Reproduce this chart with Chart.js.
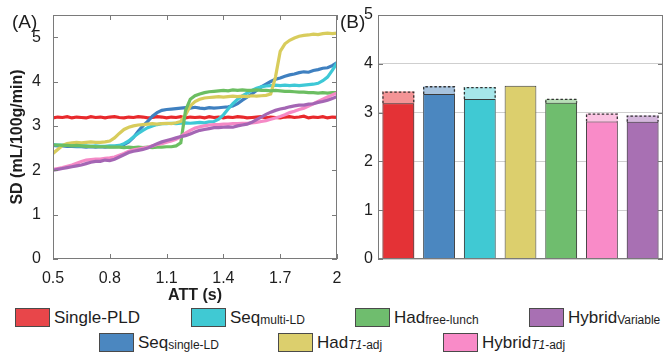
<!DOCTYPE html>
<html>
<head>
<meta charset="utf-8">
<script src="https://cdn.jsdelivr.net/npm/chart.js@4"></script>
<style>
  html, body { margin:0; padding:0; background:#fff; }
  body { width:664px; height:355px; position:relative; overflow:hidden; font-family:"Liberation Sans", Arial, sans-serif; color:#1e1e1e; }
  canvas { position:absolute; }
  .panel { position:absolute; font-size:19px; line-height:20px; color:#1e1e1e; }
  .lg { position:absolute; display:flex; align-items:center; height:19px; white-space:nowrap; }
  .bx { display:inline-block; width:33px; height:17px; border:1px solid #4a4a4a; margin-right:4px; }
  .tx { font-size:17px; color:#1e1e1e; }
  .sub { font-size:12px; position:relative; top:1px; }
</style>
</head>
<body>
<canvas id="cA" width="345" height="305" style="left:0;top:0"></canvas>
<canvas id="cB" width="324" height="305" style="left:340px;top:0"></canvas>
<div class="panel" style="left:12px;top:12px">(A)</div>
<div class="panel" style="left:340px;top:12px">(B)</div>
<div id="legend"></div>
<script>
// ---------- DATA ----------
const att = [0.5,0.525,0.55,0.575,0.6,0.625,0.65,0.675,0.7,0.725,
  0.75,0.775,0.8,0.825,0.85,0.875,0.9,0.925,0.95,0.975,
  1.0,1.025,1.05,1.075,1.1,1.125,1.15,1.175,1.2,1.225,
  1.25,1.275,1.3,1.325,1.35,1.375,1.4,1.425,1.45,1.475,
  1.5,1.525,1.55,1.575,1.6,1.625,1.65,1.675,1.7,1.725,
  1.75,1.775,1.8,1.825,1.85,1.875,1.9,1.925,1.95,1.975,
  2.0];

const singlePLD = [3.18,3.20,3.19,3.21,3.18,3.20,3.19,3.18,3.21,3.19,
  3.20,3.18,3.20,3.21,3.19,3.18,3.20,3.19,3.21,3.20,
  3.18,3.19,3.21,3.20,3.18,3.20,3.19,3.21,3.18,3.20,
  3.19,3.20,3.18,3.21,3.19,3.20,3.18,3.20,3.19,3.21,
  3.20,3.18,3.19,3.20,3.21,3.18,3.20,3.19,3.18,3.20,
  3.21,3.19,3.20,3.22,3.18,3.20,3.19,3.21,3.18,3.20,
  3.19];

const seqSingleLD = [2.56,2.55,2.55,2.54,2.54,2.53,2.53,2.52,2.53,2.52,
  2.53,2.52,2.53,2.53,2.54,2.58,2.64,2.74,2.88,3.00,
  3.10,3.22,3.30,3.35,3.37,3.38,3.39,3.40,3.41,3.40,
  3.42,3.40,3.39,3.41,3.40,3.41,3.42,3.43,3.45,3.50,
  3.58,3.65,3.72,3.80,3.88,3.94,4.00,4.05,4.08,4.12,
  4.15,4.17,4.20,4.22,4.21,4.25,4.27,4.30,4.31,4.36,
  4.43];

const seqMultiLD = [2.58,2.57,2.57,2.56,2.56,2.55,2.55,2.55,2.54,2.55,
  2.54,2.54,2.55,2.55,2.56,2.60,2.66,2.75,2.83,2.90,
  2.96,3.00,3.03,3.05,3.05,3.06,3.05,3.06,3.07,3.06,
  3.07,3.08,3.07,3.09,3.10,3.15,3.25,3.38,3.50,3.60,
  3.68,3.74,3.80,3.85,3.88,3.90,3.91,3.92,3.91,3.92,
  3.91,3.92,3.91,3.92,3.93,3.94,3.96,4.02,4.10,4.25,
  4.42];

const hadT1adj = [2.38,2.47,2.56,2.60,2.62,2.63,2.62,2.63,2.64,2.63,
  2.63,2.64,2.66,2.73,2.83,2.92,2.97,3.00,3.02,3.03,
  3.04,3.05,3.04,3.05,3.06,3.05,3.07,3.10,3.25,3.45,
  3.55,3.60,3.63,3.64,3.65,3.66,3.65,3.66,3.67,3.66,
  3.67,3.66,3.68,3.67,3.68,3.69,3.72,4.10,4.68,4.85,
  4.93,4.98,5.02,5.04,5.05,5.07,5.06,5.08,5.09,5.08,
  5.09];

const hadFreeLunch = [2.57,2.57,2.56,2.56,2.55,2.56,2.55,2.54,2.54,2.53,
  2.53,2.53,2.52,2.52,2.52,2.51,2.52,2.51,2.52,2.51,
  2.52,2.51,2.52,2.52,2.53,2.53,2.55,2.62,3.35,3.60,
  3.68,3.72,3.75,3.77,3.78,3.79,3.80,3.79,3.81,3.80,
  3.81,3.80,3.80,3.81,3.80,3.80,3.79,3.80,3.79,3.78,
  3.78,3.77,3.76,3.76,3.75,3.75,3.74,3.75,3.74,3.75,
  3.75];

const hybridT1adj = [2.02,2.04,2.06,2.09,2.12,2.16,2.20,2.23,2.24,2.25,
  2.25,2.27,2.28,2.30,2.34,2.38,2.43,2.46,2.48,2.50,
  2.52,2.55,2.58,2.60,2.63,2.66,2.70,2.76,2.84,2.90,
  2.95,2.98,3.00,3.02,3.03,3.03,3.04,3.04,3.05,3.05,
  3.06,3.06,3.07,3.08,3.10,3.12,3.15,3.18,3.21,3.25,
  3.30,3.33,3.37,3.40,3.45,3.50,3.55,3.60,3.65,3.70,
  3.74];

const hybridVariable = [2.00,2.02,2.04,2.06,2.08,2.10,2.12,2.15,2.18,2.20,
  2.20,2.23,2.22,2.25,2.30,2.35,2.40,2.43,2.45,2.47,
  2.50,2.55,2.60,2.64,2.67,2.70,2.73,2.76,2.78,2.82,
  2.86,2.90,2.92,2.94,2.96,2.96,2.97,2.98,2.97,3.00,
  3.02,3.04,3.08,3.14,3.20,3.26,3.31,3.35,3.38,3.40,
  3.43,3.45,3.47,3.47,3.49,3.50,3.53,3.55,3.58,3.62,
  3.66];

const xTickValues = [0.5, 0.8, 1.1, 1.4, 1.7, 2];
const xTickLabels = ['0.5', '0.8', '1.1', '1.4', '1.7', '2'];
const yTickValuesA = [0, 1, 2, 3, 4, 5];
const yTickLabelsA = ['0', '1', '2', '3', '4', '5'];

const barCategories = ['Single-PLD', 'Seq single-LD', 'Seq multi-LD', 'Had T1-adj', 'Had free-lunch', 'Hybrid T1-adj', 'Hybrid Variable'];
const sdMain  = [3.19, 3.38, 3.28, 3.55, 3.20, 2.82, 2.81];
const sdUpper = [3.43, 3.54, 3.52, null, 3.28, 2.98, 2.94];

const legendMain = ['Single-PLD', 'Seq', 'Seq', 'Had', 'Had', 'Hybrid', 'Hybrid'];
const legendSub  = ['', 'single-LD', 'multi-LD', 'T1-adj', 'free-lunch', 'T1-adj', 'Variable'];

// ---------- STYLE ----------
const lineColors  = ['#e8292c', '#3f80c0', '#3ec8d6', '#d8cc5c', '#6cbe62', '#f58ac6', '#a466b4'];
const barColors   = ['#e43236', '#4b87c0', '#40c9d3', '#dccf6d', '#6fbd6e', '#f98bc8', '#a870b3'];
const barLight    = ['#f39496', '#a7c3de', '#a6e6ea', '#ece5b5', '#b8deb7', '#fbc3e2', '#d4b7dc'];
const legendColors= ['#e8464a', '#4b87c0', '#40c9d3', '#dccf6d', '#6fbd6e', '#f98bc8', '#a870b3'];
const legendPos = [[15,308],[99,333],[191,308],[278,333],[355,308],[443,333],[529,308]];

const FONT = '"Liberation Sans", Arial, sans-serif';
Chart.defaults.font.family = FONT;
Chart.defaults.color = '#1e1e1e';

// ---------- LEGEND ----------
const lg = document.getElementById('legend');
legendMain.forEach((m, i) => {
  const d = document.createElement('div');
  d.className = 'lg';
  d.style.left = legendPos[i][0] + 'px';
  d.style.top = legendPos[i][1] + 'px';
  const bx = document.createElement('span');
  bx.className = 'bx';
  bx.style.background = legendColors[i];
  d.appendChild(bx);
  const tx = document.createElement('span');
  tx.className = 'tx';
  tx.appendChild(document.createTextNode(m));
  const s = legendSub[i];
  if (s) {
    const sb = document.createElement('span');
    sb.className = 'sub';
    if (s.startsWith('T1')) {
      const it = document.createElement('i');
      it.textContent = 'T1';
      sb.appendChild(it);
      sb.appendChild(document.createTextNode(s.slice(2)));
    } else {
      sb.textContent = s;
    }
    tx.appendChild(sb);
  }
  d.appendChild(tx);
  lg.appendChild(d);
});

// ---------- PLUGINS ----------
const boxPlugin = {
  id: 'boxTicks',
  afterDraw(chart, args, opts) {
    const {ctx, chartArea: a} = chart;
    ctx.save();
    ctx.strokeStyle = opts.color || '#777';
    ctx.lineWidth = 1;
    ctx.strokeRect(a.left + 0.5, a.top + 0.5, a.right - a.left - 1, a.bottom - a.top - 1);
    const L = 5;
    const ys = chart.scales.y;
    ys.ticks.forEach(t => {
      const p = Math.round(ys.getPixelForValue(t.value)) + 0.5;
      ctx.beginPath();
      ctx.moveTo(a.left, p); ctx.lineTo(a.left + L, p);
      ctx.moveTo(a.right - L, p); ctx.lineTo(a.right, p);
      ctx.stroke();
    });
    if (opts.xTicks) {
      const xs = chart.scales.x;
      xs.ticks.forEach(t => {
        const p = Math.round(xs.getPixelForValue(t.value)) + 0.5;
        ctx.beginPath();
        ctx.moveTo(p, a.bottom); ctx.lineTo(p, a.bottom - L);
        ctx.moveTo(p, a.top); ctx.lineTo(p, a.top + L);
        ctx.stroke();
      });
    }
    ctx.restore();
  }
};

// dashed outline of the upper (light) part of each bar, above the solid part
const dashPlugin = {
  id: 'dashTop',
  afterDatasetsDraw(chart) {
    const ctx = chart.ctx;
    const ys = chart.scales.y;
    const meta = chart.getDatasetMeta(1);
    ctx.save();
    ctx.strokeStyle = '#333';
    ctx.lineWidth = 1.3;
    ctx.setLineDash([2.5, 2]);
    meta.data.forEach((el, i) => {
      if (sdUpper[i] == null) return;
      const {x, y, width} = el.getProps(['x', 'y', 'width'], true);
      const yb = ys.getPixelForValue(sdMain[i]);
      const l = x - width / 2 + 0.5, r = x + width / 2 - 0.5, t = y + 0.5;
      ctx.beginPath();
      ctx.moveTo(l, yb); ctx.lineTo(l, t); ctx.lineTo(r, t); ctx.lineTo(r, yb);
      ctx.stroke();
    });
    ctx.restore();
  }
};

// ---------- CHART A ----------
const seriesA = [singlePLD, seqSingleLD, seqMultiLD, hadT1adj, hadFreeLunch, hybridT1adj, hybridVariable];
new Chart(document.getElementById('cA'), {
  type: 'line',
  data: {
    datasets: seriesA.map((s, i) => ({
      data: s.map((v, k) => ({x: att[k], y: v})),
      borderColor: lineColors[i],
      borderWidth: 3.2,
      pointRadius: 0,
      tension: 0,
      fill: false,
      order: seriesA.length - i
    }))
  },
  options: {
    responsive: false, animation: false, devicePixelRatio: 1,
    layout: {padding: {left: 0, right: 8, top: 15, bottom: 0}},
    plugins: {legend: {display: false}, tooltip: {enabled: false}, boxTicks: {xTicks: true, color: '#7a7a7a'}},
    scales: {
      x: {
        type: 'linear', min: 0.5, max: 2,
        grid: {display: false}, border: {display: false},
        afterBuildTicks: s => { s.ticks = xTickValues.map(v => ({value: v})); },
        ticks: {callback: (v, i) => xTickLabels[i], font: {size: 16}, color: '#1e1e1e', padding: 2, maxRotation: 0, autoSkip: false},
        title: {display: true, text: 'ATT (s)', font: {size: 16, weight: 'bold'}, color: '#1e1e1e', padding: 0},
        afterFit: s => { s.height = 46; }
      },
      y: {
        min: 0, max: 5.5,
        grid: {display: false}, border: {display: false},
        afterBuildTicks: s => { s.ticks = yTickValuesA.map(v => ({value: v})); },
        ticks: {callback: (v, i) => yTickLabelsA[i], font: {size: 16}, color: '#1e1e1e', padding: 4},
        title: {display: true, text: 'SD (mL/100g/min)', font: {size: 16, weight: 'bold'}, color: '#1e1e1e', padding: {top: 8, bottom: 0}},
        afterFit: s => { s.width = 53; }
      }
    }
  },
  plugins: [boxPlugin]
});

// ---------- CHART B ----------
new Chart(document.getElementById('cB'), {
  type: 'bar',
  data: {
    labels: barCategories,
    datasets: [
      {data: sdMain, backgroundColor: barColors, borderColor: '#3a3a3a', borderWidth: 1, grouped: false},
      {data: sdUpper, backgroundColor: barLight, borderWidth: 0, grouped: false}
    ]
  },
  options: {
    responsive: false, animation: false, devicePixelRatio: 1,
    layout: {padding: {left: 0, right: 1, top: 15, bottom: 0}},
    datasets: {bar: {categoryPercentage: 1, barPercentage: 0.78}},
    plugins: {legend: {display: false}, tooltip: {enabled: false}, boxTicks: {xTicks: false, color: '#7a7a7a'}},
    scales: {
      x: {
        grid: {display: false}, border: {display: false},
        ticks: {display: false},
        afterFit: s => { s.height = 46; }
      },
      y: {
        min: 0, max: 5,
        grid: {color: '#cfcfcf', drawTicks: false}, border: {display: false},
        ticks: {stepSize: 1, font: {size: 16}, color: '#1e1e1e', padding: 5},
        afterFit: s => { s.width = 38; }
      }
    }
  },
  plugins: [dashPlugin, boxPlugin]
});
</script>
</body>
</html>
